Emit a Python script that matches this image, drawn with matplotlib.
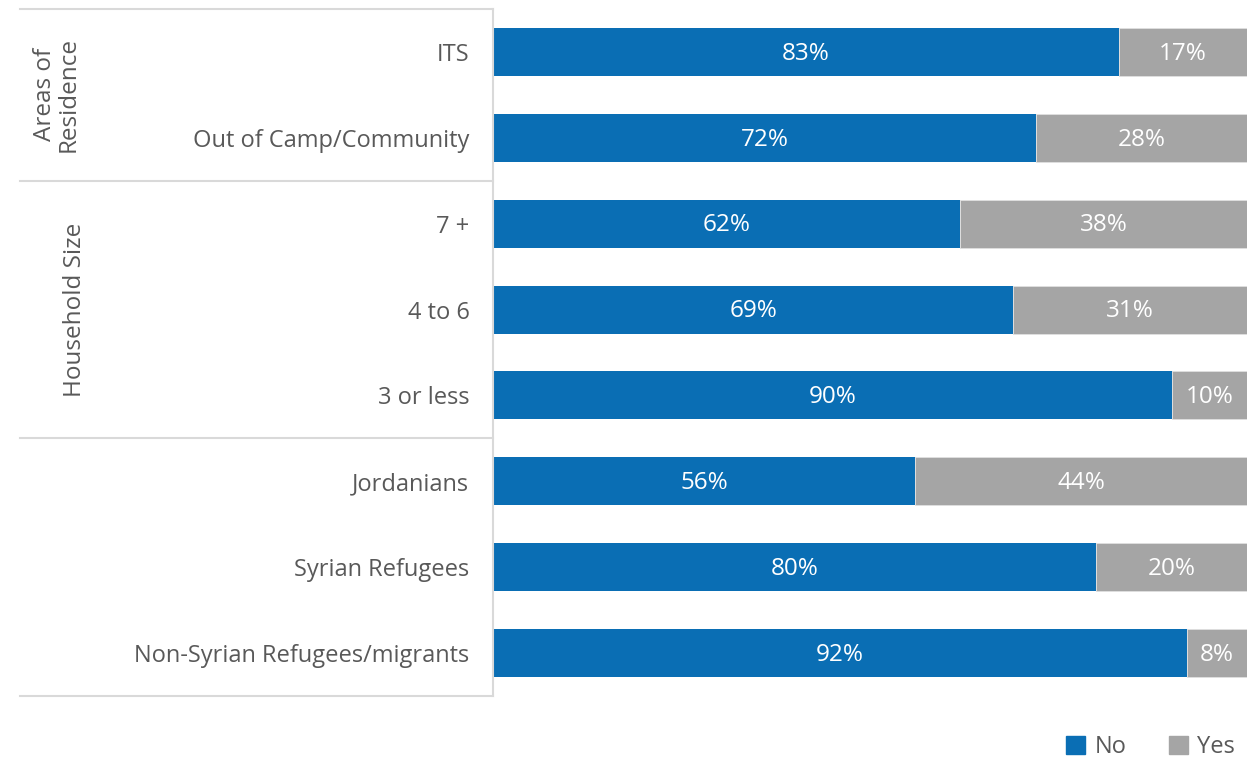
import matplotlib
matplotlib.use("Agg")
import matplotlib.pyplot as plt
from matplotlib.lines import Line2D
from matplotlib.patches import Patch

categories = ["ITS", "Out of Camp/Community", "7 +", "4 to 6", "3 or less",
              "Jordanians", "Syrian Refugees", "Non-Syrian Refugees/migrants"]
no_vals = [83, 72, 62, 69, 90, 56, 80, 92]
yes_vals = [17, 28, 38, 31, 10, 44, 20, 8]
groups = [("Areas of\nResidence", 0, 1), ("Household Size", 2, 4), ("", 5, 7)]
series_names = ["No", "Yes"]

BLUE = "#0A6EB4"
GREY = "#A5A5A5"
TXT = "#595959"
LINE = "#D9D9D9"

plt.rcParams['font.family'] = ['Open Sans', 'DejaVu Sans']
FS = 17

fig = plt.figure(figsize=(12.58, 7.58), dpi=100)
ax = fig.add_axes([493/1258, 1 - 696/758, (1247-493)/1258, (696-9)/758])

y = list(range(len(categories)))
h = 0.56
ax.barh(y, no_vals, height=h, color=BLUE, label=series_names[0])
ax.barh(y, yes_vals, left=no_vals, height=h, color=GREY, label=series_names[1],
        edgecolor="#E0E0E0", linewidth=0.6)

for i in y:
    ax.text(no_vals[i] / 2, i + 0.02, f"{no_vals[i]}%", ha="center", va="center",
            color="white", fontsize=17.5)
    ax.text(no_vals[i] + yes_vals[i] / 2, i + 0.02, f"{yes_vals[i]}%", ha="center",
            va="center", color="white", fontsize=17.5)

ax.set_xlim(0, 100)
ax.set_ylim(len(categories) - 0.5, -0.5)
ax.set_xticks([])
ax.set_yticks(y)
ax.set_yticklabels(categories, fontsize=FS, color=TXT)
ax.tick_params(axis="y", length=0, pad=17)
for s in ["top", "right", "bottom"]:
    ax.spines[s].set_visible(False)
ax.spines["left"].set_color(LINE)
ax.spines["left"].set_linewidth(1.5)

# Group separator lines extending to the left
x_left = (20 - 493) / (1247 - 493) * 100
boundaries = [-0.5, 1.5, 4.5, 7.5]
for b in boundaries:
    ax.add_line(Line2D([x_left, 0], [b, b], color=LINE, lw=1.5, clip_on=False))

# Group labels (rotated)
for name, a, bb in groups:
    if not name:
        continue
    xc = (57 - 493) / (1247 - 493) * 100 if "\n" in name else (75 - 493) / (1247 - 493) * 100
    ax.text(xc, (a + bb) / 2, name, rotation=90, ha="center", va="center",
            color=TXT, fontsize=17.5, clip_on=False, linespacing=1.0)

handles = [Patch(color=BLUE), Patch(color=GREY)]
fig.legend(handles, series_names, loc="center right",
           bbox_to_anchor=(1235/1258, 1 - 747/758),
           ncol=2, frameon=False, fontsize=FS, handlelength=0.8, handleheight=0.8,
           handletextpad=0.4, columnspacing=1.8, labelcolor=TXT,
           borderaxespad=0, borderpad=0)

fig.savefig("out.png", dpi=100)
